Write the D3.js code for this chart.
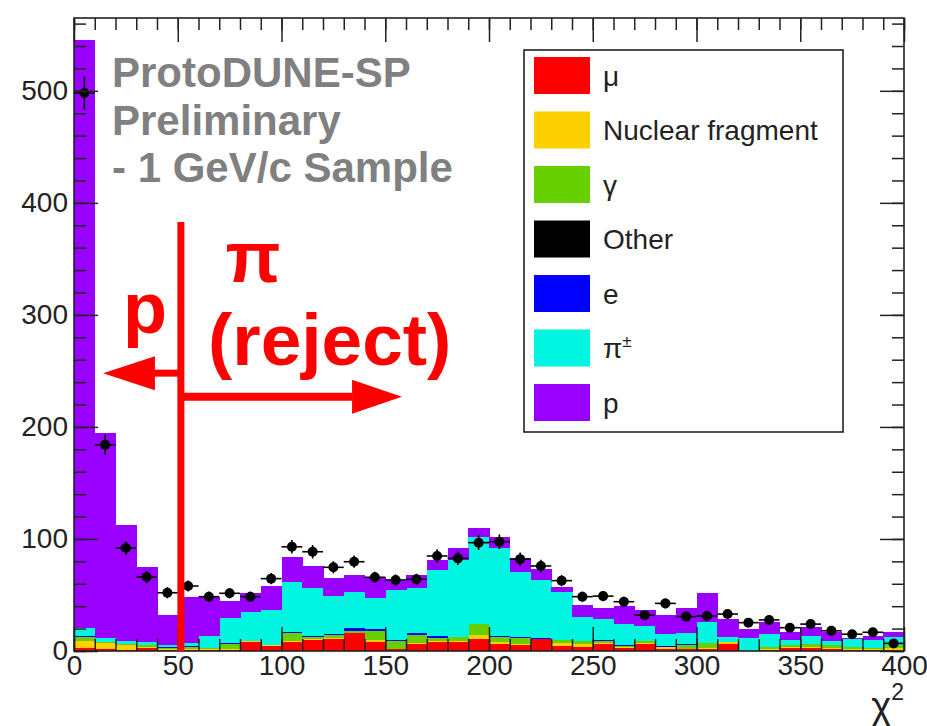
<!DOCTYPE html>
<html>
<head>
<meta charset="utf-8">
<script src="https://cdnjs.cloudflare.com/ajax/libs/d3/7.8.5/d3.min.js"></script>
<style>
body { margin: 0; background: #fff; }
svg { display: block; font-family: "Liberation Sans", Arial, sans-serif; }
</style>
</head>
<body>
<svg width="927" height="726"></svg>
<script>
// bin lower edges (chi2), bin width 10
var binLo = [0,10,20,30,40,50,60,70,80,90,100,110,120,130,140,150,160,170,180,190,
             200,210,220,230,240,250,260,270,280,290,300,310,320,330,340,350,360,370,380,390];

// MC stack contributions per bin
var muCounts    = [2.5,1.5,1,2.5,1,1,0.5,1,8,4.5,8,10,10.5,16,8,1.5,6,8,8,11,
                   6.5,5,11,4.5,4,6.5,2.4,6,2,1.5,2,6,0.3,0.5,2.5,3,1.5,0.5,0.5,1];
var nfCounts    = [6.5,5.5,4,1,0.5,1,1.5,0.5,1,0.5,0.5,1,1.5,0.5,2,0.5,1.5,1,0.5,3,
                   1.5,1,0,2.5,2,1,1,1.5,1.5,0.5,1,2,0,1,1,1,1.5,1,1,2];
var gammaCounts = [3.5,1,1,1.5,1.5,2,0.3,5,0,0,8,1.8,2,1.5,8,7,7,3,4,10,
                   4.5,5.5,0,2.8,2.5,1.5,1.5,1.5,0.5,3,4,0.3,0.2,2,2,2.5,2,2.5,1,2.5];
var otherCounts = [0.3,0,0,0,0,0,0,0,0,0,0,0,0,0,0,0,0,0,0,0,
                   0,0,0,0,0,0,0,0,0,0,0,0,0,0,0,0,0,0,0,0];
var eCounts     = [0.5,0.3,0.3,0.3,0.3,0.5,0,0.3,0,0,0.3,0.3,1,2.5,2,1,1.5,1.3,0.3,0.3,
                   1,0.7,0.5,0.3,0.5,0.5,0.5,0.3,0.3,1,0.5,0,0,0.5,0,0,0,0,0,0.3];
var piCounts    = [7,3.7,2.9,3,2.1,2.5,11,23,26,31.6,45.2,42.9,34,32.2,27,44.5,40,58.7,68.2,77.2,
                   78.2,58.6,51.9,42.9,21.7,19.5,18.6,12.7,10.7,10.4,18.5,4.5,10.8,11,4.3,6.9,4.2,6.4,7.3,7];
var pCounts     = [525,183,103,66.7,26.6,41,34.7,15.2,16.5,21.4,22,20,16,15.3,19,8.5,12,9,10.7,8.5,
                   10.3,11.9,9.6,4.4,10.8,9.5,16,15,17,22.3,25.5,16.2,8.7,11,7.2,8.3,7.8,1.6,3.6,4.2];

// data points and their errors
var dataCounts = [498,184,92,66,52,58,48.5,51.5,48.5,64.6,93,88.6,74.7,79.7,65.8,63.4,64,84.8,82.7,96.7,
                  97.6,82,75.9,62.8,48.5,49,44,32,42.5,30.7,31.3,33,25.3,27.7,20.8,24,18,15,16.7,6.8];
var dataErrors = [15,9,6,5.5,5,5,4.5,4.5,4.5,5,6,6,5.5,5.5,5,5,5,6,6,6.5,
                  6.5,6,5.5,5,4.5,4.5,4.5,4,4.5,4,4,4,3.5,3.5,3,3,3,2.5,2.5,2];

var keys   = ["mu","nf","gamma","other","e","pi","p"];
var labels = ["\u03bc","Nuclear fragment","\u03b3","Other","e","\u03c0","p"];
var colors = ["#ff0000","#ffd000","#66d000","#000000","#0000ff","#00f6e0","#9900ff"];

var xMajor = [0,50,100,150,200,250,300,350,400];
var yMajor = [0,100,200,300,400,500];

// set size and margins
var svg = d3.select("svg"),
    margin = {top: 18, right: 23, bottom: 75, left: 74},
    width = +svg.attr("width") - margin.left - margin.right,
    height = +svg.attr("height") - margin.top - margin.bottom;

svg.append("rect").attr("width", 927).attr("height", 726).attr("fill", "#fff");

var g = svg.append("g").attr("transform", "translate(" + margin.left + "," + margin.top + ")");

var x = d3.scaleLinear().domain([0, 400]).range([0, width]),
    y = d3.scaleLinear().domain([0, 565]).range([height, 0]),
    z = d3.scaleOrdinal().domain(keys).range(colors);

// build rows for the stack
var rows = binLo.map(function(lo, i) {
    return {lo: lo, mu: muCounts[i], nf: nfCounts[i], gamma: gammaCounts[i], other: otherCounts[i],
            e: eCounts[i], pi: piCounts[i], p: pCounts[i]};
});
var layers = d3.stack().keys(keys)(rows);

// stacked histogram
g.selectAll(".layer")
    .data(layers)
  .enter().append("g")
    .attr("class", "layer")
    .attr("fill", function(d) { return z(d.key); })
  .selectAll("rect")
    .data(function(d) { return d; })
  .enter().append("rect")
    .attr("shape-rendering", "crispEdges")
    .attr("x", function(d) { return x(d.data.lo); })
    .attr("width", function(d) { return x(d.data.lo + 10) - x(d.data.lo) + 0.5; })
    .attr("y", function(d) { return y(d[1]); })
    .attr("height", function(d) { return Math.max(0, y(d[0]) - y(d[1])); });

// data points with error bars
var pts = g.selectAll(".pt")
    .data(binLo.map(function(lo, i) { return {lo: lo, v: dataCounts[i], err: dataErrors[i]}; }))
  .enter().append("g").attr("class", "pt");

pts.append("line")
    .attr("x1", function(d) { return x(d.lo); })
    .attr("x2", function(d) { return x(d.lo + 10); })
    .attr("y1", function(d) { return y(d.v); })
    .attr("y2", function(d) { return y(d.v); })
    .attr("stroke", "#000").attr("stroke-width", 1.6);
pts.append("line")
    .attr("x1", function(d) { return x(d.lo + 5); })
    .attr("x2", function(d) { return x(d.lo + 5); })
    .attr("y1", function(d) { return y(d.v + d.err); })
    .attr("y2", function(d) { return y(d.v - d.err); })
    .attr("stroke", "#000").attr("stroke-width", 1.6);
pts.append("circle")
    .attr("cx", function(d) { return x(d.lo + 5); })
    .attr("cy", function(d) { return y(d.v); })
    .attr("r", 5)
    .attr("fill", "#000");

// axes (ROOT style, ticks pointing inwards)
function styleAxis(sel) {
    sel.select(".domain").remove();
    sel.selectAll("line").attr("stroke", "#222").attr("stroke-width", 1.5);
    sel.selectAll("text").attr("fill", "#222").style("font-size", "28px")
        .style("font-family", "'Liberation Sans', Arial, sans-serif");
}

g.append("g").attr("transform", "translate(0," + height + ")")
    .call(d3.axisBottom(x).tickValues(d3.range(0, 401, 10)).tickSize(-12).tickFormat(""))
    .call(styleAxis);
g.append("g").attr("transform", "translate(0," + height + ")")
    .call(d3.axisBottom(x).tickValues(xMajor).tickSizeInner(-24).tickSizeOuter(0).tickPadding(4).tickFormat(d3.format("d")))
    .call(styleAxis);
g.append("g")
    .call(d3.axisTop(x).tickValues(d3.range(0, 401, 10)).tickSize(-12).tickFormat(""))
    .call(styleAxis);
g.append("g")
    .call(d3.axisTop(x).tickValues(xMajor).tickSize(-24).tickFormat(""))
    .call(styleAxis);

g.append("g")
    .call(d3.axisLeft(y).tickValues(d3.range(0, 561, 20)).tickSize(-12).tickFormat(""))
    .call(styleAxis);
g.append("g")
    .call(d3.axisLeft(y).tickValues(yMajor).tickSizeInner(-24).tickSizeOuter(0).tickPadding(6).tickFormat(d3.format("d")))
    .call(styleAxis);
g.append("g").attr("transform", "translate(" + width + ",0)")
    .call(d3.axisRight(y).tickValues(d3.range(0, 561, 20)).tickSize(-12).tickFormat(""))
    .call(styleAxis);
g.append("g").attr("transform", "translate(" + width + ",0)")
    .call(d3.axisRight(y).tickValues(yMajor).tickSize(-24).tickFormat(""))
    .call(styleAxis);

// frame
g.append("rect")
    .attr("width", width).attr("height", height)
    .attr("fill", "none").attr("stroke", "#222").attr("stroke-width", 1.6);

// x axis title
var xt = g.append("text")
    .attr("x", width).attr("y", 701)
    .attr("text-anchor", "end")
    .attr("fill", "#222")
    .style("font-size", "38px");
xt.append("tspan").text("\u03c7");
xt.append("tspan").attr("dy", -19).style("font-size", "23px").text("2");

// preliminary label
var info = ["ProtoDUNE-SP", "Preliminary", "- 1 GeV/c Sample"];
g.selectAll(".info")
    .data(info)
  .enter().append("text")
    .attr("x", 38)
    .attr("y", function(d, i) { return 69 + i * 47.5; })
    .attr("fill", "#808080")
    .style("font-weight", "bold")
    .style("font-size", "42px")
    .text(function(d) { return d; });

// cut line and arrows
var red = "#ff0000",
    cut = 51.5, lineTop = 383,
    leftTip = 14, leftBase = 39, leftY = 248,
    rightTip = 158, rightBase = 134, rightY = 227;

g.append("line")
    .attr("x1", x(cut)).attr("x2", x(cut))
    .attr("y1", y(lineTop)).attr("y2", height)
    .attr("stroke", red).attr("stroke-width", 7);

g.append("line")
    .attr("x1", x(cut)).attr("x2", x(leftBase))
    .attr("y1", y(leftY)).attr("y2", y(leftY))
    .attr("stroke", red).attr("stroke-width", 7);
g.append("path")
    .attr("d", "M" + x(leftTip) + "," + y(leftY) + "L" + x(leftBase) + "," + (y(leftY) - 17) +
               "L" + x(leftBase) + "," + (y(leftY) + 17) + "Z")
    .attr("fill", red);

g.append("line")
    .attr("x1", x(cut)).attr("x2", x(rightBase))
    .attr("y1", y(rightY)).attr("y2", y(rightY))
    .attr("stroke", red).attr("stroke-width", 8);
g.append("path")
    .attr("d", "M" + x(rightTip) + "," + y(rightY) + "L" + x(rightBase) + "," + (y(rightY) - 17) +
               "L" + x(rightBase) + "," + (y(rightY) + 17) + "Z")
    .attr("fill", red);

g.append("text").attr("x", 49).attr("y", 315)
    .attr("fill", red).style("font-weight", "bold").style("font-size", "72px").text("p");
g.append("text").attr("x", 179).attr("y", 264).attr("text-anchor", "middle")
    .attr("fill", red).style("font-weight", "bold").style("font-size", "72px").text("\u03c0");
g.append("text").attr("x", 134).attr("y", 347)
    .attr("fill", red).style("font-weight", "bold").style("font-size", "73px").text("(reject)");

// legend
var legend = g.append("g").attr("transform", "translate(450,32)");
legend.append("rect")
    .attr("width", 319).attr("height", 382)
    .attr("fill", "#fff").attr("stroke", "#222").attr("stroke-width", 1.6);

var entry = legend.selectAll(".entry")
    .data(keys)
  .enter().append("g")
    .attr("class", "entry")
    .attr("transform", function(d, i) { return "translate(10," + (7 + i * 54.5) + ")"; });

entry.append("rect")
    .attr("width", 56).attr("height", 37)
    .attr("fill", function(d) { return z(d); });

var lt = entry.append("text")
    .attr("x", 69).attr("y", 28.5)
    .attr("fill", "#222")
    .style("font-size", "28px")
    .text(function(d, i) { return labels[i]; });
lt.filter(function(d) { return d === "pi"; })
  .append("tspan").attr("dy", -11).style("font-size", "17px").text("\u00b1");
</script>
</body>
</html>
